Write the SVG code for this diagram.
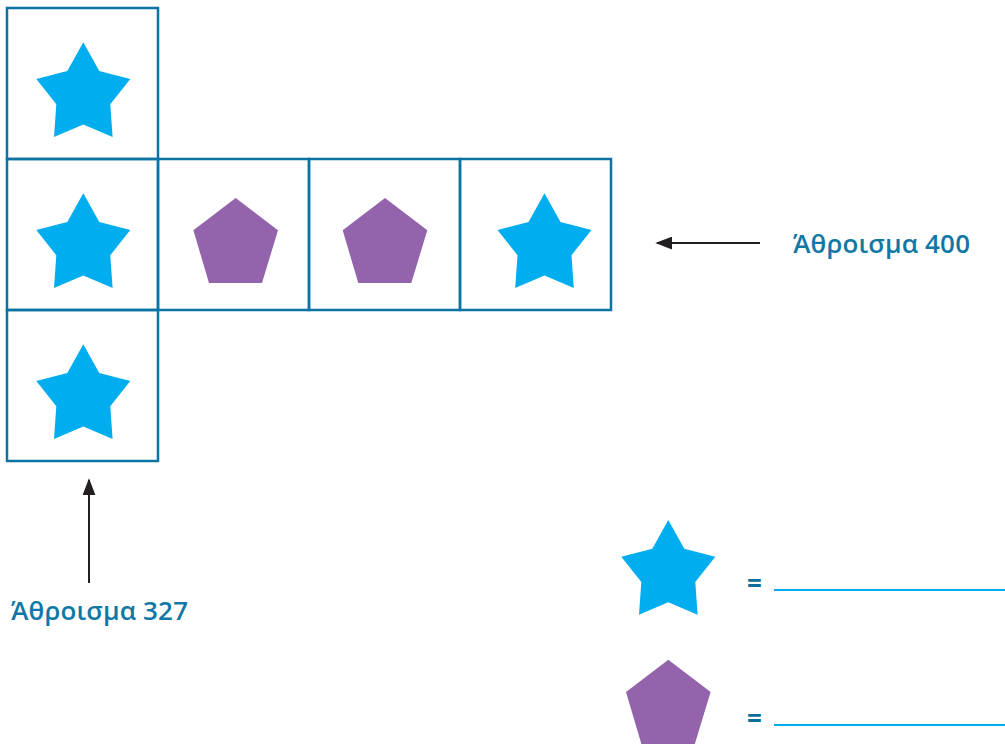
<svg xmlns="http://www.w3.org/2000/svg" width="1005" height="744" viewBox="0 0 1005 744">
<style>
.cell{fill:none;stroke:#0b74a3;stroke-width:2.5}
.star{fill:#00aeef}
.pent{fill:#9363ab}
.lbl{font-family:"Open Sans","Noto Sans",sans-serif;font-weight:600;font-size:26px;fill:#1178a6}
.eq{font-family:"Open Sans","Noto Sans",sans-serif;font-weight:700;font-size:26px;fill:#0b6f99}
.ans{stroke:#00aeef;stroke-width:2}
.arr{stroke:#231f20;stroke-width:2;fill:none}
</style>
<defs>
<path id="st" d="M0,0 L16,28.7 L47,36.7 L27,62 L29.3,94.7 L0,82.3 L-29.3,94.7 L-27,62 L-47,36.7 L-16,28.7 Z"/>
<path id="pg" d="M0,0 L42.3,32.3 L26.3,85 L-26.7,85 L-42.3,32.3 Z"/>
<marker id="ah" viewBox="0 0 10 10" refX="9" refY="5" markerWidth="8.5" markerHeight="6.5" orient="auto" markerUnits="strokeWidth" preserveAspectRatio="none">
<path d="M0,0 L10,5 L0,10 Z" fill="#231f20"/>
</marker>
</defs>
<rect width="1005" height="744" fill="#fff"/>
<g id="cell-r1c1"><rect class="cell" x="7" y="8" width="151" height="151"/><use href="#st" class="star" x="83.3" y="42.3"/></g>
<g id="cell-r2c1"><rect class="cell" x="7" y="159" width="151" height="151"/><use href="#st" class="star" x="83.3" y="193.3"/></g>
<g id="cell-r3c1"><rect class="cell" x="7" y="310" width="151" height="151"/><use href="#st" class="star" x="83.3" y="344.3"/></g>
<g id="cell-r2c2"><rect class="cell" x="158" y="159" width="151" height="151"/><use href="#pg" class="pent" x="235.7" y="198"/></g>
<g id="cell-r2c3"><rect class="cell" x="309" y="159" width="151" height="151"/><use href="#pg" class="pent" x="385" y="198"/></g>
<g id="cell-r2c4"><rect class="cell" x="460" y="159" width="151" height="151"/><use href="#st" class="star" x="544.5" y="193.3"/></g>
<g id="label-400"><text class="lbl" x="793" y="253" textLength="177" lengthAdjust="spacing">Άθροισμα 400</text></g>
<g id="label-327"><text class="lbl" x="11" y="620" textLength="177" lengthAdjust="spacing">Άθροισμα 327</text></g>
<g id="legend-star"><use href="#st" class="star" x="668.3" y="520"/><text class="eq" x="747" y="593">=</text><line class="ans" x1="774" y1="590" x2="1005" y2="590"/></g>
<g id="legend-pent"><use href="#pg" class="pent" x="668.3" y="659.7"/><text class="eq" x="747" y="728">=</text><line class="ans" x1="774" y1="725" x2="1005" y2="725"/></g>
<g id="connectors">
<line class="arr" x1="760" y1="243" x2="657" y2="243" marker-end="url(#ah)"/>
<line class="arr" x1="89" y1="583" x2="89" y2="480" marker-end="url(#ah)"/>
</g>
</svg>
